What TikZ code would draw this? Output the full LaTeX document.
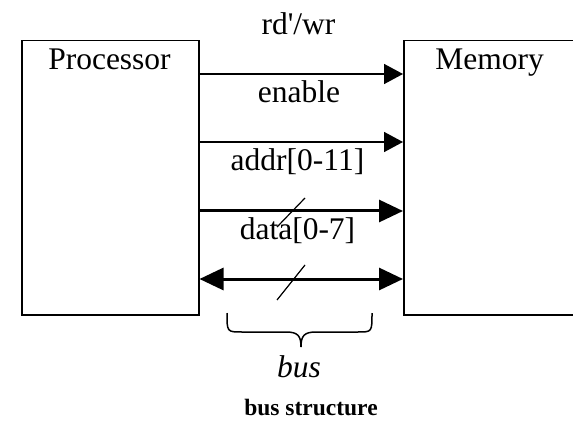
\documentclass[tikz,border=0pt]{standalone}
\usepackage{fontspec}
\setmainfont{Liberation Serif}[Ligatures=TeXOff]
\usetikzlibrary{arrows.meta}
\begin{document}
\begin{tikzpicture}[x=1pt,y=-1pt,
  blockbox/.style={draw, line width=1.5pt, minimum height=274pt, anchor=north west, inner sep=0pt},
  lbl/.style={anchor=base, font=\fontsize{31.5}{36}\selectfont, inner sep=0pt},
  thinsig/.style={line width=1.5pt, -{Triangle[length=19pt,width=20pt]}},
  bussig/.style={line width=3pt, -{Triangle[length=24pt,width=22pt]}},
  bisig/.style={line width=3pt, {Triangle[length=24pt,width=22pt]}-{Triangle[length=24pt,width=22pt]}},
  slashline/.style={line width=1.2pt},
  bracestyle/.style={line width=1.5pt}
]
\useasboundingbox (0,0) rectangle (573,422);
\clip (0,0) rectangle (573,422);
% blocks
\node[blockbox, minimum width=177pt] (proc) at (21,40) {};
\node[blockbox, minimum width=200pt] (mem) at (403,40) {};
\node[lbl] (proclbl) at (109.5,70) {Processor};
\node[lbl] (memlbl) at (489.5,70) {Memory};
% signals
\draw[thinsig] (proc.east |- 0,74) -- (mem.west |- 0,74);
\draw[thinsig] (proc.east |- 0,142) -- (mem.west |- 0,142);
\draw[bussig] (proc.east |- 0,211) -- (mem.west |- 0,211);
\draw[bisig] (proc.east |- 0,279) -- (mem.west |- 0,279);
% labels
\node[lbl] (rdwr) at (298.5,35) {rd'/wr};
\node[lbl] (en) at (299,103) {enable};
\node[lbl] (addr) at (297.5,171) {addr[0-11]};
\node[lbl] (data) at (297.5,240) {data[0-7]};
% bus width slashes
\draw[slashline] (277,227) -- (305,198);
\draw[slashline] (277,300) -- (305,265);
% brace
\draw[bracestyle] (227,313) .. controls (227,332) and (227,332) .. (242,332)
  -- (286,332) .. controls (298,332) and (301,336) .. (301,347)
  .. controls (301,336) and (304,332) .. (316,332)
  -- (358,332) .. controls (372,332) and (372,332) .. (372,313);
\node[anchor=base, inner sep=0pt, font=\fontsize{31.5}{36}\selectfont\itshape] (buslbl) at (299,377) {bus};
\node[anchor=base, inner sep=0pt, font=\fontsize{23.5}{28}\selectfont\bfseries] (caption) at (311,415) {bus structure};
\end{tikzpicture}
\end{document}
